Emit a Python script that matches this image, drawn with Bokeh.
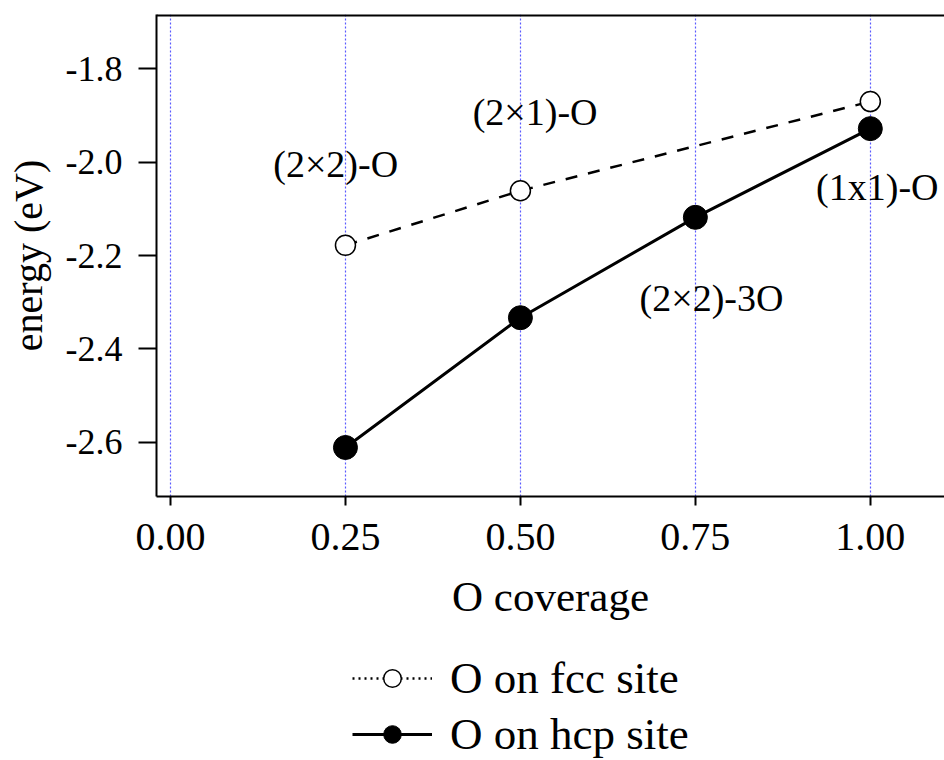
from bokeh.plotting import figure
from bokeh.layouts import column
from bokeh.models import (ColumnDataSource, FixedTicker, NumeralTickFormatter, Range1d,
                          Legend, LegendItem, Span)
from bokeh.core.properties import value
from bokeh.embed import file_html
from bokeh.resources import INLINE

# ---- data ----
fcc_coverage = [0.25, 0.50, 1.00]
fcc_energy = [-2.178, -2.061, -1.870]
hcp_coverage = [0.25, 0.50, 0.75, 1.00]
hcp_energy = [-2.611, -2.333, -2.118, -1.928]

label_text = ["(2\u00d72)-O", "(2\u00d71)-O", "(2\u00d72)-3O", "(1x1)-O"]
label_x = [0.236, 0.521, 0.773, 1.010]
label_y = [-2.003, -1.893, -2.290, -2.052]

x_ticks = [0.0, 0.25, 0.5, 0.75, 1.0]
y_ticks = [-2.6, -2.4, -2.2, -2.0, -1.8]

legend_labels = ["O on fcc site", "O on hcp site"]

FONT = "Liberation Serif"
Y_TOP = -1.6835
W = 944

p = figure(width=W, height=640, output_backend="svg", toolbar_location=None,
           x_range=Range1d(-0.02, 1.106), y_range=Range1d(-2.716, Y_TOP),
           min_border_left=156, min_border_top=14, min_border_right=0, min_border_bottom=144)
p.outline_line_color = None
p.background_fill_color = "white"
p.border_fill_color = "white"

# grid
p.ygrid.grid_line_color = None
p.xgrid.ticker = FixedTicker(ticks=x_ticks)
p.xgrid.grid_line_color = "#5a5aff"
p.xgrid.grid_line_dash = "2 2"
p.xgrid.grid_line_width = 1.2

# axes
p.xaxis.ticker = FixedTicker(ticks=x_ticks)
p.xaxis.formatter = NumeralTickFormatter(format="0.00")
p.yaxis.ticker = FixedTicker(ticks=y_ticks)
p.yaxis.formatter = NumeralTickFormatter(format="0.0")
for ax in (p.xaxis, p.yaxis):
    ax.axis_line_width = 2
    ax.axis_line_color = "black"
    ax.major_tick_line_width = 2
    ax.major_tick_line_color = "black"
    ax.major_tick_in = 0
    ax.minor_tick_line_color = None
    ax.major_label_text_font = FONT
    ax.major_label_text_color = "black"
    ax.axis_label_text_font = FONT
    ax.axis_label_text_font_style = "normal"
    ax.axis_label_text_color = "black"
p.xaxis.major_tick_out = 9
p.yaxis.major_tick_out = 18
p.xaxis.major_label_text_font_size = "40px"
p.yaxis.major_label_text_font_size = "36px"
p.xaxis.major_label_standoff = 18
p.yaxis.major_label_standoff = 16
p.xaxis.axis_label = "O coverage"
p.yaxis.axis_label = "energy (eV)"
p.xaxis.axis_label_text_font_size = "43px"
p.yaxis.axis_label_text_font_size = "40px"
p.xaxis.axis_label_standoff = 20
p.yaxis.axis_label_standoff = 12

# top border line
p.add_layout(Span(location=Y_TOP, dimension="width", line_color="black", line_width=4))

# series
fcc_src = ColumnDataSource(dict(x=fcc_coverage, y=fcc_energy))
hcp_src = ColumnDataSource(dict(x=hcp_coverage, y=hcp_energy))

p.line("x", "y", source=fcc_src, line_color="black", line_width=2.5, line_dash="12 11")
p.scatter("x", "y", source=fcc_src, size=20, marker="circle", fill_color="white",
          line_color="black", line_width=1.5)
p.line("x", "y", source=hcp_src, line_color="black", line_width=3)
p.scatter("x", "y", source=hcp_src, size=24, marker="circle", fill_color="black",
          line_color="black")

# annotations
lab_src = ColumnDataSource(dict(x=label_x, y=label_y, t=label_text))
p.text("x", "y", text="t", source=lab_src, text_font=value(FONT), text_font_size="38px",
       text_align="center", text_baseline="middle", text_color="black")

# ---- legend panel below ----
lf = figure(width=W, height=120, output_backend="svg", toolbar_location=None,
            x_range=Range1d(0, 1), y_range=Range1d(0, 1),
            min_border=0, x_axis_type=None, y_axis_type=None)
lf.outline_line_color = None
lf.grid.grid_line_color = None
lf.background_fill_color = "white"
lf.border_fill_color = "white"

# legend-only renderers: a single NaN point each, so nothing is drawn in the panel itself
nan_src = ColumnDataSource(dict(x=[float("nan")], y=[float("nan")]))
l1 = lf.line("x", "y", source=nan_src, line_color="black", line_width=2.5, line_dash="2 4")
s1 = lf.scatter("x", "y", source=nan_src, size=24, marker="circle", fill_color="white",
                line_color="black", line_width=1.5)
l2 = lf.line("x", "y", source=nan_src, line_color="black", line_width=3)
s2 = lf.scatter("x", "y", source=nan_src, size=26, marker="circle", fill_color="black",
                line_color="black")

legend = Legend(items=[LegendItem(label=legend_labels[0], renderers=[l1, s1]),
                       LegendItem(label=legend_labels[1], renderers=[l2, s2])],
                location=(196, 0), orientation="vertical")
legend.border_line_color = None
legend.background_fill_alpha = 0
legend.label_text_font = FONT
legend.label_text_font_size = "45px"
legend.label_text_color = "black"
legend.glyph_width = 80
legend.glyph_height = 44
legend.label_height = 44
legend.spacing = 4
legend.label_standoff = 18
legend.margin = 0
legend.padding = 0
lf.add_layout(legend, "center")

open("out.html", "w").write(file_html(column(p, lf, spacing=0), INLINE))
